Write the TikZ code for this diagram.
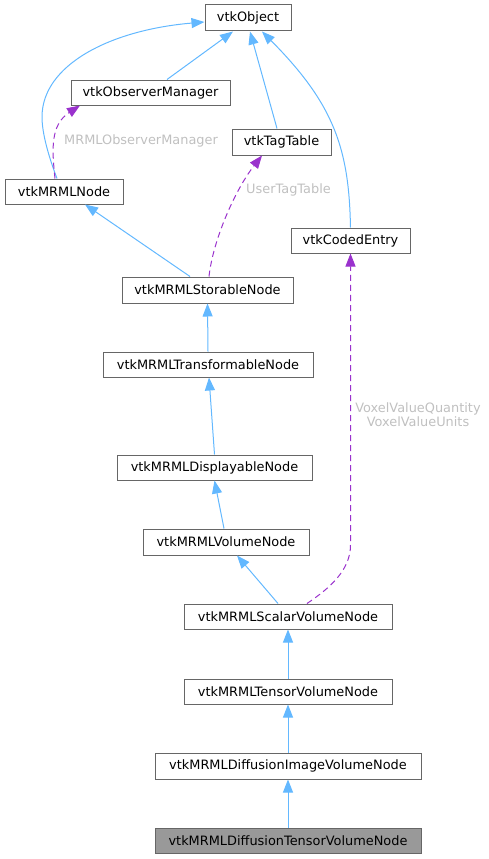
\documentclass[tikz,border=0pt]{standalone}
\usepackage{fontspec}
\setmainfont{DejaVu Sans}
\usetikzlibrary{arrows.meta}
\definecolor{edgeblue}{HTML}{63B8FF}
\definecolor{edgepurple}{HTML}{9A32CD}
\definecolor{boxline}{HTML}{666666}
\definecolor{lbl}{HTML}{C0C0C0}
\definecolor{mainfill}{HTML}{999999}
\tikzset{
  cls/.style={draw=boxline, line width=1pt, fill=white, minimum height=25pt, inner sep=0pt, font=\fontsize{12.9}{14}\selectfont},
  mainbox/.style={cls, fill=mainfill},
  inh/.style={draw=edgeblue, line width=1pt, -{Triangle[length=13pt,width=10pt]}},
  use/.style={draw=edgepurple, line width=1pt, dash pattern=on 6pt off 4pt, -{Triangle[length=13pt,width=10pt]}},
  elabel/.style={text=lbl, font=\fontsize{12.9}{14}\selectfont, inner sep=0pt, align=center}
}
\begin{document}
\begin{tikzpicture}[x=1pt,y=-1pt]
\useasboundingbox (0,0) rectangle (488,859);
\node[cls, minimum width=86pt, minimum height=26pt] (obj) at (248,18) {vtkObject};
\node[cls, minimum width=159pt] (obsm) at (150.5,92.5) {vtkObserverManager};
\node[cls, minimum width=99pt, minimum height=26pt] (tag) at (281.5,142) {vtkTagTable};
\node[cls, minimum width=118pt] (mrml) at (64,191.5) {vtkMRMLNode};
\node[cls, minimum width=119pt] (coded) at (350.5,240.5) {vtkCodedEntry};
\node[cls, minimum width=171pt, minimum height=26pt] (stor) at (207.5,290) {vtkMRMLStorableNode};
\node[cls, minimum width=210pt] (trans) at (208,364.5) {vtkMRMLTransformableNode};
\node[cls, minimum width=195pt] (disp) at (214.5,467.5) {vtkMRMLDisplayableNode};
\node[cls, minimum width=166pt, minimum height=26pt] (vol) at (226,542) {vtkMRMLVolumeNode};
\node[cls, minimum width=208pt] (scal) at (288,616.5) {vtkMRMLScalarVolumeNode};
\node[cls, minimum width=208pt] (tens) at (288,691.5) {vtkMRMLTensorVolumeNode};
\node[cls, minimum width=266pt, minimum height=26pt] (dimg) at (288,766) {vtkMRMLDiffusionImageVolumeNode};
\node[mainbox, minimum width=266pt] (dten) at (288,840.5) {vtkMRMLDiffusionTensorVolumeNode};
\coordinate (bendA) at (42,117);
\coordinate (bendB) at (350.5,545);
% inheritance
\draw[inh] ([xshift=-7pt]mrml.north) .. controls (50,160) and (42,135) .. (bendA) .. controls (42,65) and (110,30) .. ([yshift=-4pt]obj.west);
\draw[inh] ([xshift=16.5pt]obsm.north) -- ([xshift=-15pt]obj.south);
\draw[inh] ([xshift=-4.5pt]tag.north) -- ([xshift=2pt]obj.south);
\draw[inh] (coded.north) .. controls (349,150) and (335,105) .. ([xshift=14pt]obj.south);
\draw[inh] ([xshift=-17.5pt]stor.north) -- ([xshift=21pt]mrml.south);
\draw[inh] (trans.north) -- (stor.south);
\draw[inh] (disp.north) -- ([xshift=1pt]trans.south);
\draw[inh] ([xshift=-2pt]vol.north) -- (disp.south);
\draw[inh] ([xshift=-10pt]scal.north) -- ([xshift=11pt]vol.south);
\draw[inh] (tens.north) -- (scal.south);
\draw[inh] (dimg.north) -- (tens.south);
\draw[inh] (dten.north) -- (dimg.south);
% usage
\draw[use] ([xshift=-9pt]mrml.north) .. controls (52,150) and (50,125) .. ([xshift=-70.5pt]obsm.south);
\draw[use] ([xshift=1.5pt]stor.north) .. controls (213,240) and (235,190) .. ([xshift=-19.5pt]tag.south);
\draw[use] ([xshift=19pt]scal.north) .. controls (330,588) and (350.5,570) .. (bendB) -- (coded.south);
% labels
\node[elabel] (lobs) at (141,141) {MRMLObserverManager};
\node[elabel] (ltag) at (288.5,190) {UserTagTable};
\node[elabel] (lvox) at (418,415) {VoxelValueQuantity\\VoxelValueUnits};
\end{tikzpicture}
\end{document}
